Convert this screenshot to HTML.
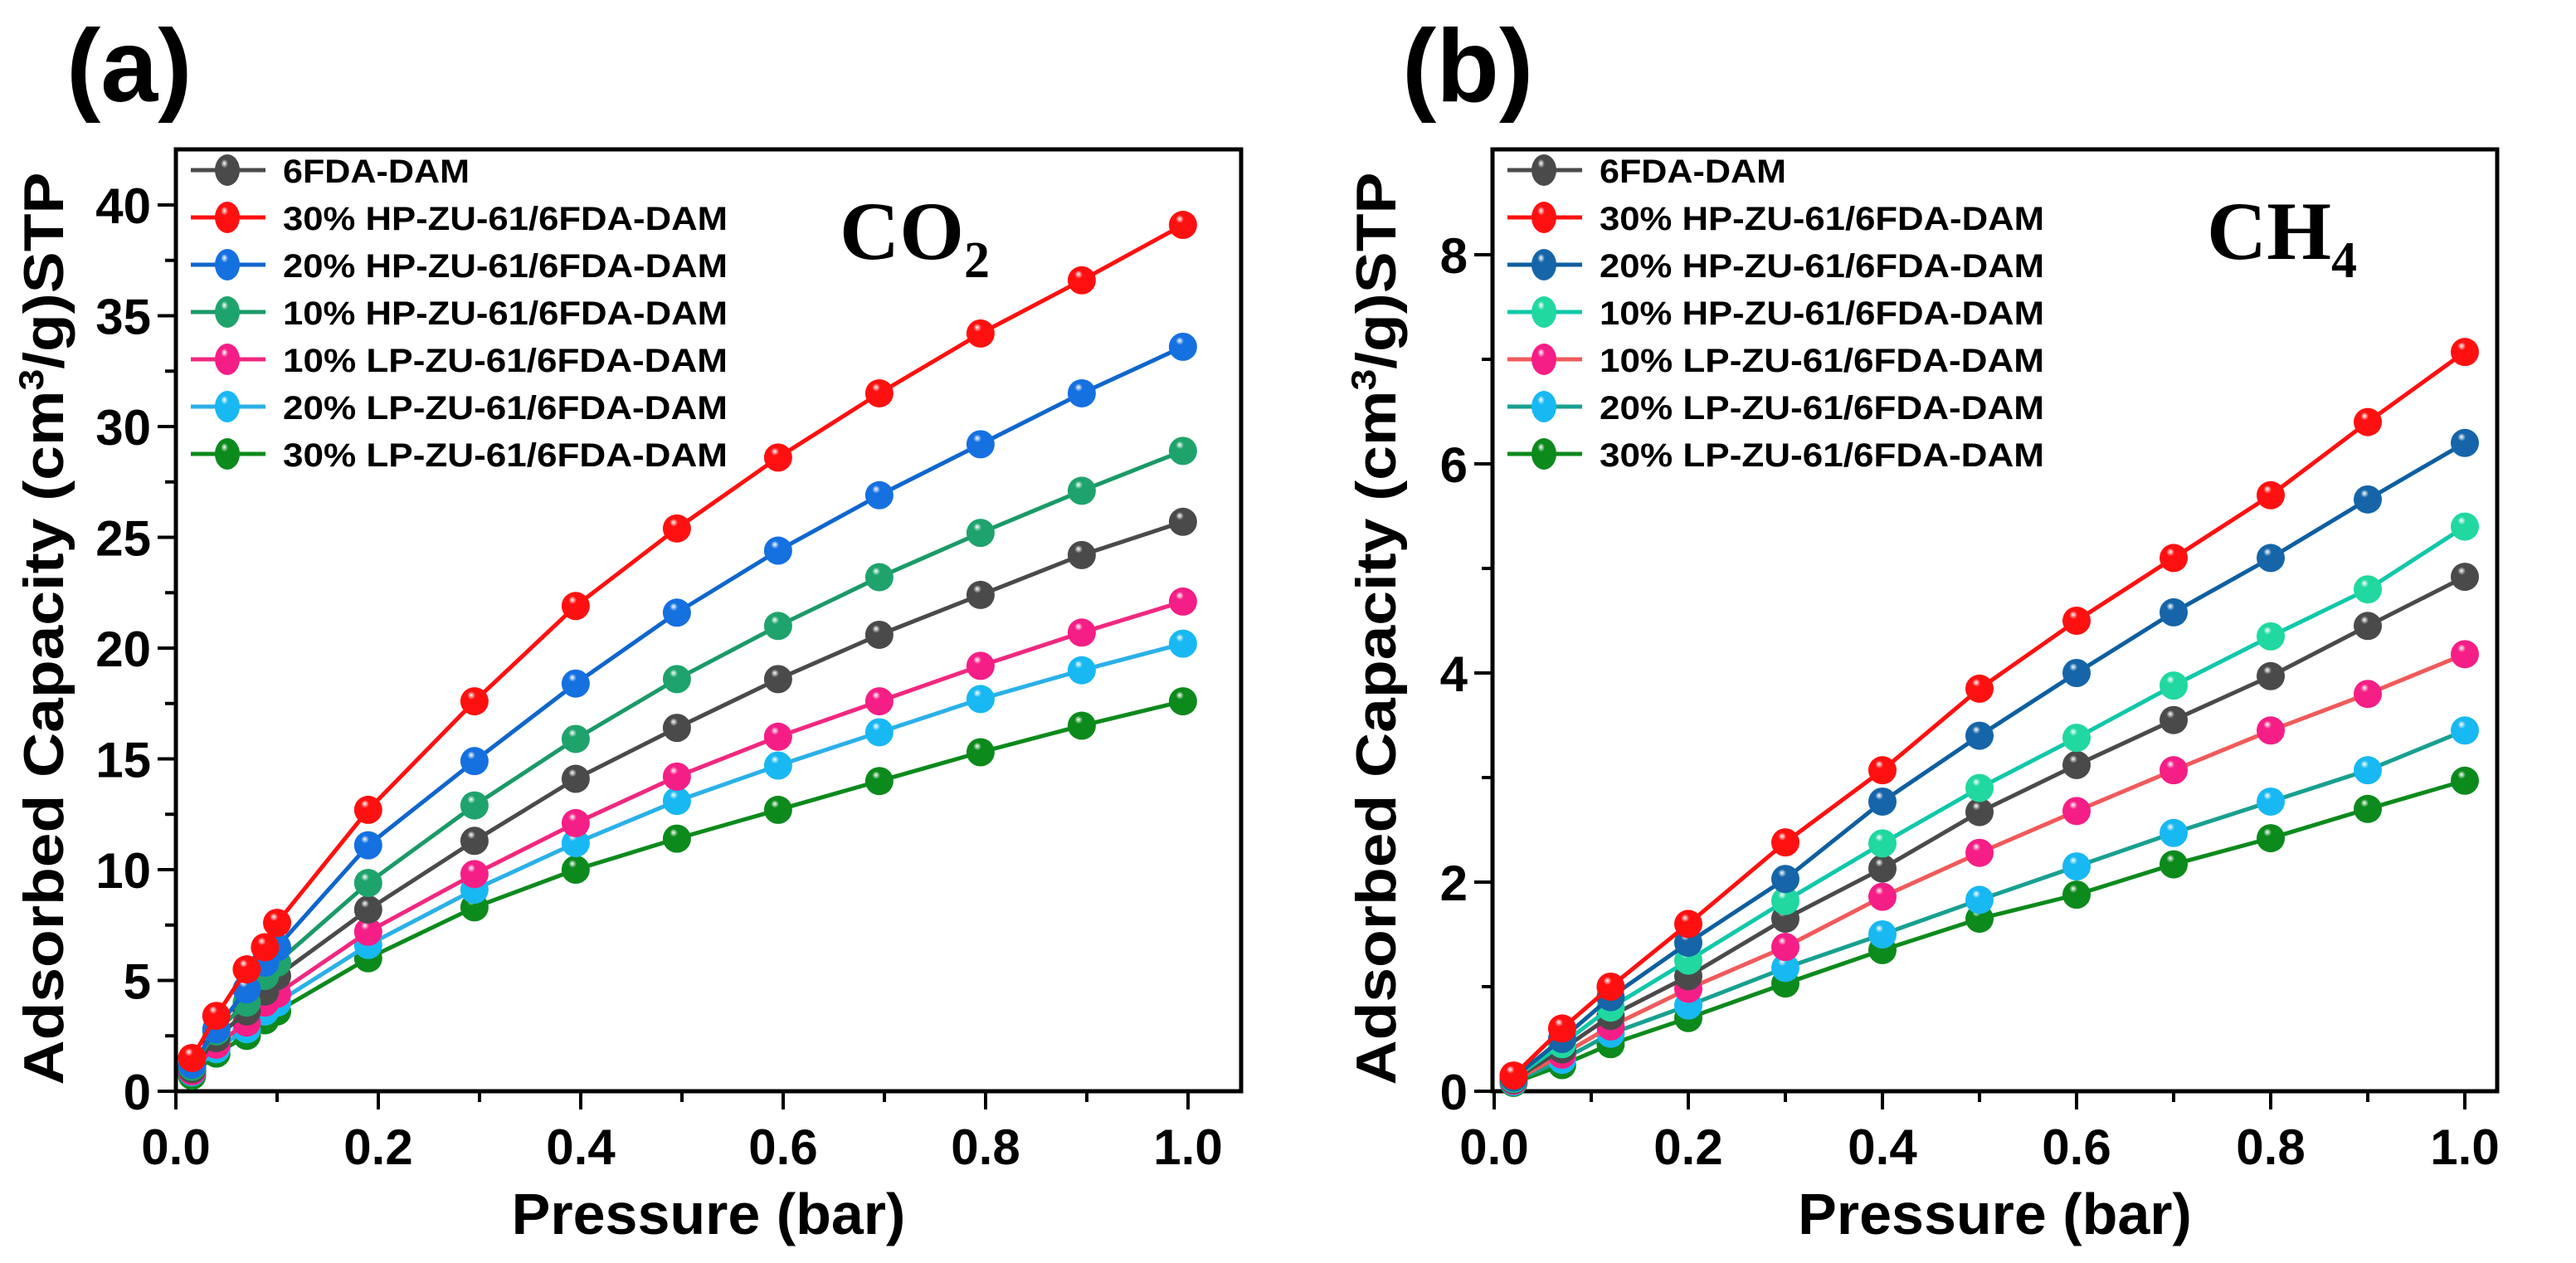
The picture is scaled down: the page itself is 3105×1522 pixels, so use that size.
<!DOCTYPE html>
<html><head><meta charset="utf-8"><style>
html,body{margin:0;padding:0;background:#fff;}
svg{display:block;}
text{font-family:"Liberation Sans",Arial,sans-serif;font-weight:bold;}
</style></head><body>
<svg id="fig" xmlns="http://www.w3.org/2000/svg" width="3105" height="1522" viewBox="0 0 3105 1522">
<defs id="defs"></defs>
</svg>
<script>
const seriesNames = ["6FDA-DAM","30% HP-ZU-61/6FDA-DAM","20% HP-ZU-61/6FDA-DAM","10% HP-ZU-61/6FDA-DAM","10% LP-ZU-61/6FDA-DAM","20% LP-ZU-61/6FDA-DAM","30% LP-ZU-61/6FDA-DAM"];
const xTickLabels = ["0.0","0.2","0.4","0.6","0.8","1.0"];
const xTickValues = [0,0.2,0.4,0.6,0.8,1.0];
// Panel (a) CO2
const co2Pressure = [0.016,0.04,0.07,0.088,0.1,0.19,0.295,0.395,0.495,0.595,0.695,0.795,0.895,0.995];
const co2Gray   = [1.0,2.4,3.6,4.5,5.2,8.2,11.3,14.1,16.4,18.6,20.6,22.4,24.2,25.7];
const co2Red    = [1.5,3.4,5.5,6.5,7.6,12.7,17.6,21.9,25.4,28.6,31.5,34.2,36.6,39.1];
const co2Blue   = [1.2,2.8,4.6,5.8,6.5,11.1,14.9,18.4,21.6,24.4,26.9,29.2,31.5,33.6];
const co2Green  = [1.1,2.7,4.0,5.2,5.8,9.4,12.9,15.9,18.6,21.0,23.2,25.2,27.1,28.9];
const co2Pink   = [0.9,2.1,3.1,4.0,4.4,7.2,9.8,12.1,14.2,16.0,17.6,19.2,20.7,22.1];
const co2Cyan   = [0.85,1.9,2.8,3.6,4.0,6.6,9.1,11.2,13.1,14.7,16.2,17.7,19.0,20.2];
const co2DkGreen= [0.7,1.7,2.5,3.2,3.6,6.0,8.3,10.0,11.4,12.7,14.0,15.3,16.5,17.6];
const co2YTickLabels = ["0","5","10","15","20","25","30","35","40"];
const co2YTickValues = [0,5,10,15,20,25,30,35,40];
// Panel (b) CH4
const ch4Pressure = [0.02,0.07,0.12,0.2,0.3,0.4,0.5,0.6,0.7,0.8,0.9,1.0];
const ch4Gray   = [0.11,0.4,0.72,1.1,1.65,2.13,2.67,3.12,3.55,3.97,4.45,4.92];
const ch4Red    = [0.15,0.6,1.0,1.6,2.38,3.07,3.85,4.5,5.1,5.7,6.4,7.07];
const ch4Blue   = [0.13,0.5,0.9,1.42,2.03,2.77,3.4,4.0,4.58,5.1,5.66,6.2];
const ch4Teal   = [0.12,0.45,0.8,1.25,1.82,2.37,2.9,3.38,3.88,4.35,4.8,5.4];
const ch4Pink   = [0.1,0.35,0.62,0.98,1.38,1.86,2.28,2.68,3.07,3.45,3.8,4.18];
const ch4Cyan   = [0.09,0.3,0.55,0.82,1.18,1.5,1.83,2.15,2.47,2.77,3.07,3.45];
const ch4DkGreen= [0.08,0.25,0.45,0.7,1.03,1.35,1.65,1.88,2.17,2.42,2.7,2.97];
const ch4YTickLabels = ["0","2","4","6","8"];
const ch4YTickValues = [0,2,4,6,8];

const NS="http://www.w3.org/2000/svg";
const svg=document.getElementById('fig');
const defs=document.getElementById('defs');
function mk(tag,attrs,parent){const e=document.createElementNS(NS,tag);for(const k in attrs)e.setAttribute(k,attrs[k]);(parent||svg).appendChild(e);return e;}
let gradCount=0;
function grad(color){
  const id='g'+(gradCount++);
  const g=mk('radialGradient',{id:id,cx:'0.42',cy:'0.35',r:'0.65',fx:'0.38',fy:'0.28'},defs);
  mk('stop',{offset:'0',  'stop-color':'#ffffff'},g);
  mk('stop',{offset:'0.22','stop-color':color},g);
  mk('stop',{offset:'1','stop-color':color},g);
  return 'url(#'+id+')';
}

function panel(cfg){
  const g=mk('g',{});
  
  
  const X=v=>cfg.x0+(v-0)*(cfg.x1-cfg.x0)/1.0;
  const Y=v=>cfg.y0-(v)*(cfg.y0-cfg.yTop)/cfg.yTopVal;
  const fr=mk('path',{d:`M${cfg.left} ${cfg.top} H${cfg.right} V${cfg.y0} H${cfg.left} Z`,fill:'none',stroke:'#000','stroke-width':5},g);
  
  
  for(let i=0;i<=10;i++){
    const v=i*0.1, x=X(v), major=i%2===0;
    mk('line',{x1:x,x2:x,y1:cfg.y0,y2:cfg.y0+(major?22:13),stroke:'#000','stroke-width':4},g);
  }
  xTickValues.forEach((v,i)=>{
    const t=mk('text',{x:X(v),y:cfg.y0+88,'font-size':60,'text-anchor':'middle'},g);
    t.textContent=xTickLabels[i];
    
    
  });
  const step=cfg.yVals[1]-cfg.yVals[0];
  for(let v=0; v<=cfg.yTopVal+1e-9; v+=step/2){
    const major=Math.abs(v/step-Math.round(v/step))<1e-6;
    mk('line',{x1:cfg.left,x2:cfg.left-(major?22:13),y1:Y(v),y2:Y(v),stroke:'#000','stroke-width':4},g);
  }
  cfg.yVals.forEach((v,i)=>{
    const t=mk('text',{x:cfg.left-30,y:Y(v)+22,'font-size':60,'text-anchor':'end'},g);
    t.textContent=cfg.yLabels[i];
    
    
  });
  const xt=mk('text',{x:(cfg.left+cfg.right)/2,y:1487,'font-size':70,'text-anchor':'middle'},g);
  xt.textContent='Pressure (bar)';
  
  
  const yt=mk('text',{x:0,y:0,'font-size':68,'text-anchor':'middle',transform:`translate(${cfg.ytx},${(cfg.top+cfg.y0)/2+10}) rotate(-90)`,textLength:1100,lengthAdjust:'spacingAndGlyphs'},g);
  yt.innerHTML='Adsorbed Capacity (cm<tspan dy="-24" font-size="42">3</tspan><tspan dy="24">/g)STP</tspan>';
  
  
  const pl=mk('text',{x:cfg.labelX,y:122,'font-size':124},g);
  pl.textContent=cfg.label;
  
  
  const gl=mk('text',{x:cfg.gasX,y:312,'font-size':100,style:'font-family:"Liberation Serif",serif;font-weight:bold'},g);
  gl.innerHTML=cfg.gas+'<tspan font-size="62" dy="22">'+cfg.gasSub+'</tspan>';
  
  
  const order=[6,5,4,0,3,2,1];
  order.forEach(si=>{
    const s=cfg.series[si];
    const fill=grad(s.marker);
    const sg=mk('g',{},g);
    
    
    const pts=cfg.px.map((p,i)=>X(p)+','+Y(s.data[i])).join(' ');
    mk('polyline',{points:pts,fill:'none',stroke:s.line,'stroke-width':5},sg);
    cfg.px.forEach((p,i)=>{
      const c=mk('circle',{cx:X(p),cy:Y(s.data[i]),r:17,fill:fill},sg);
      
      
    });
  });
  const lg=mk('g',{},g);
  
  
  cfg.series.forEach((s,i)=>{
    const y=205+i*57, mx=cfg.left+62;
    const e=mk('g',{},lg);
    
    
    mk('line',{x1:mx-44,x2:mx+46,y1:y,y2:y,stroke:s.line,'stroke-width':5},e);
    mk('ellipse',{cx:mx,cy:y,rx:15,ry:19,fill:grad(s.marker)},e);
    const t=mk('text',{x:cfg.left+129,y:y+15,'font-size':40,textLength:i===0?225:536,lengthAdjust:'spacingAndGlyphs'},e);
    t.textContent=seriesNames[i];
  });
}

panel({name:'panel-a-co2',left:212,right:1496,top:180,x0:212,x1:1432,y0:1315,yTop:247,yTopVal:40,
  yVals:co2YTickValues,yLabels:co2YTickLabels,ytx:76,labelX:80,label:'(a)',gas:'CO',gasSub:'2',gasX:1012,
  px:co2Pressure,
  series:[
   {data:co2Gray,line:'#4a4a4a',marker:'#4a4a4a'},
   {data:co2Red,line:'#ff1010',marker:'#ff1010'},
   {data:co2Blue,line:'#0f66cc',marker:'#1570e0'},
   {data:co2Green,line:'#1a9a68',marker:'#1fa36c'},
   {data:co2Pink,line:'#f0287f',marker:'#f51e86'},
   {data:co2Cyan,line:'#2ab0e8',marker:'#18b8f2'},
   {data:co2DkGreen,line:'#0c8a1c',marker:'#0c8a1c'}]});

panel({name:'panel-b-ch4',left:1799,right:3010,top:180,x0:1801,x1:2971,y0:1315,yTop:307,yTopVal:8,
  yVals:ch4YTickValues,yLabels:ch4YTickLabels,ytx:1682,labelX:1690,label:'(b)',gas:'CH',gasSub:'4',gasX:2660,
  px:ch4Pressure,
  series:[
   {data:ch4Gray,line:'#4a4a4a',marker:'#4a4a4a'},
   {data:ch4Red,line:'#ff1010',marker:'#ff1010'},
   {data:ch4Blue,line:'#0d5fa0',marker:'#1565a8'},
   {data:ch4Teal,line:'#10c8a8',marker:'#20d8a0'},
   {data:ch4Pink,line:'#f05a5a',marker:'#f51e86'},
   {data:ch4Cyan,line:'#18a090',marker:'#18b8f2'},
   {data:ch4DkGreen,line:'#0c8a1c',marker:'#0c8a1c'}]});
</script>
</body></html>
